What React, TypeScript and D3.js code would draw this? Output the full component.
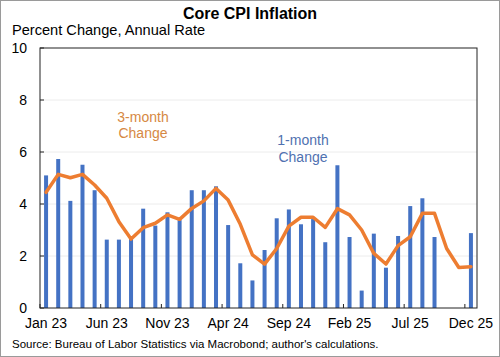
import React from "react";
import * as d3 from "d3";

const months = [
  "Jan 23","Feb 23","Mar 23","Apr 23","May 23","Jun 23","Jul 23","Aug 23","Sep 23","Oct 23","Nov 23","Dec 23",
  "Jan 24","Feb 24","Mar 24","Apr 24","May 24","Jun 24","Jul 24","Aug 24","Sep 24","Oct 24","Nov 24","Dec 24",
  "Jan 25","Feb 25","Mar 25","Apr 25","May 25","Jun 25","Jul 25","Aug 25","Sep 25","Oct 25","Nov 25","Dec 25",
];

const oneMonth: (number | null)[] = [
  5.1, 5.73, 4.12, 5.51, 4.53, 2.63, 2.63, 2.7, 3.82, 3.17, 3.68, 3.38,
  4.53, 4.53, 4.68, 3.19, 1.72, 1.06, 2.23, 3.45, 3.79, 3.22, 3.42, 2.53,
  5.49, 2.73, 0.67, 2.86, 1.55, 2.77, 3.92, 4.22, 2.73, null, null, 2.88,
];

const threeMonth: number[] = [
  4.45, 5.14, 5.01, 5.14, 4.73, 4.22, 3.32, 2.65, 3.09, 3.26, 3.58, 3.41,
  3.83, 4.12, 4.6, 4.15, 3.22, 2.04, 1.69, 2.29, 3.15, 3.49, 3.49, 3.1,
  3.82, 3.58, 3.0, 2.1, 1.69, 2.4, 2.74, 3.64, 3.64, 2.29, 1.56, 1.59,
];

const xTickLabels = ["Jan 23", "Jun 23", "Nov 23", "Apr 24", "Sep 24", "Feb 25", "Jul 25", "Dec 25"];
const yTicks = [0, 2, 4, 6, 8, 10];

const FONT = "'Liberation Sans', Arial, sans-serif";

export default function App() {
  const W = 500, H = 357;
  const left = 40, right = 477, top = 48, bottom = 308;
  const x = d3.scaleBand<string>().domain(months).range([left, right]).padding(0);
  const y = d3.scaleLinear().domain([0, 10]).range([bottom, top]);
  const cx = (m: string) => (x(m) as number) + x.bandwidth() / 2;
  const barW = 4;

  const line = d3
    .line<number>()
    .x((_, i) => cx(months[i]))
    .y((d) => y(d));

  return (
    <svg width={W} height={H} style={{ position: "absolute", left: 0, top: 0, background: "#fff" }} fontFamily={FONT}>
      <rect x={0.5} y={0.5} width={W - 1} height={H - 1} fill="#fff" stroke="#9a9a9a" />
      <text x={250} y={18.5} textAnchor="middle" fontSize={16} fontWeight="bold" fill="#000">
        Core CPI Inflation
      </text>
      <text x={12} y={35} fontSize={14.6} fill="#000">
        Percent Change, Annual Rate
      </text>

      {yTicks.filter((t) => t > 0 && t < 10).map((t) => (
        <line key={"g" + t} x1={left} x2={right} y1={y(t)} y2={y(t)} stroke="#ececec" strokeWidth={1} />
      ))}

      {oneMonth.map((v, i) =>
        v == null ? null : (
          <rect key={"b" + i} x={cx(months[i]) - barW / 2} y={y(v)} width={barW} height={y(0) - y(v)} fill="#4472C4" />
        )
      )}

      <path d={line(threeMonth) || ""} fill="none" stroke="#ED7D31" strokeWidth={3.5} strokeLinejoin="round" strokeLinecap="round" />

      <rect x={left} y={top} width={right - left} height={bottom - top} fill="none" stroke="#222" strokeWidth={1} />

      {yTicks.map((t) => (
        <g key={"y" + t}>
          <line x1={left} x2={left + 4} y1={y(t)} y2={y(t)} stroke="#222" />
          <text x={27} y={y(t) + 5} textAnchor="end" fontSize={14} fill="#000">
            {t}
          </text>
        </g>
      ))}

      {xTickLabels.map((m) => (
        <g key={"x" + m}>
          <line x1={x(m) as number} x2={x(m) as number} y1={bottom} y2={bottom - 4} stroke="#222" />
          <text x={cx(m)} y={328} textAnchor="middle" fontSize={14} fill="#000">
            {m}
          </text>
        </g>
      ))}

      <text x={143} y={122} textAnchor="middle" fontSize={14} fill="#D68843">
        <tspan x={143}>3-month</tspan>
        <tspan x={143} dy={16}>Change</tspan>
      </text>
      <text x={303} y={145} textAnchor="middle" fontSize={14} fill="#4F71B0">
        <tspan x={303}>1-month</tspan>
        <tspan x={303} dy={17}>Change</tspan>
      </text>

      <text x={12} y={348} fontSize={11.5} fill="#000">
        Source: Bureau of Labor Statistics via Macrobond; author's calculations.
      </text>
    </svg>
  );
}
